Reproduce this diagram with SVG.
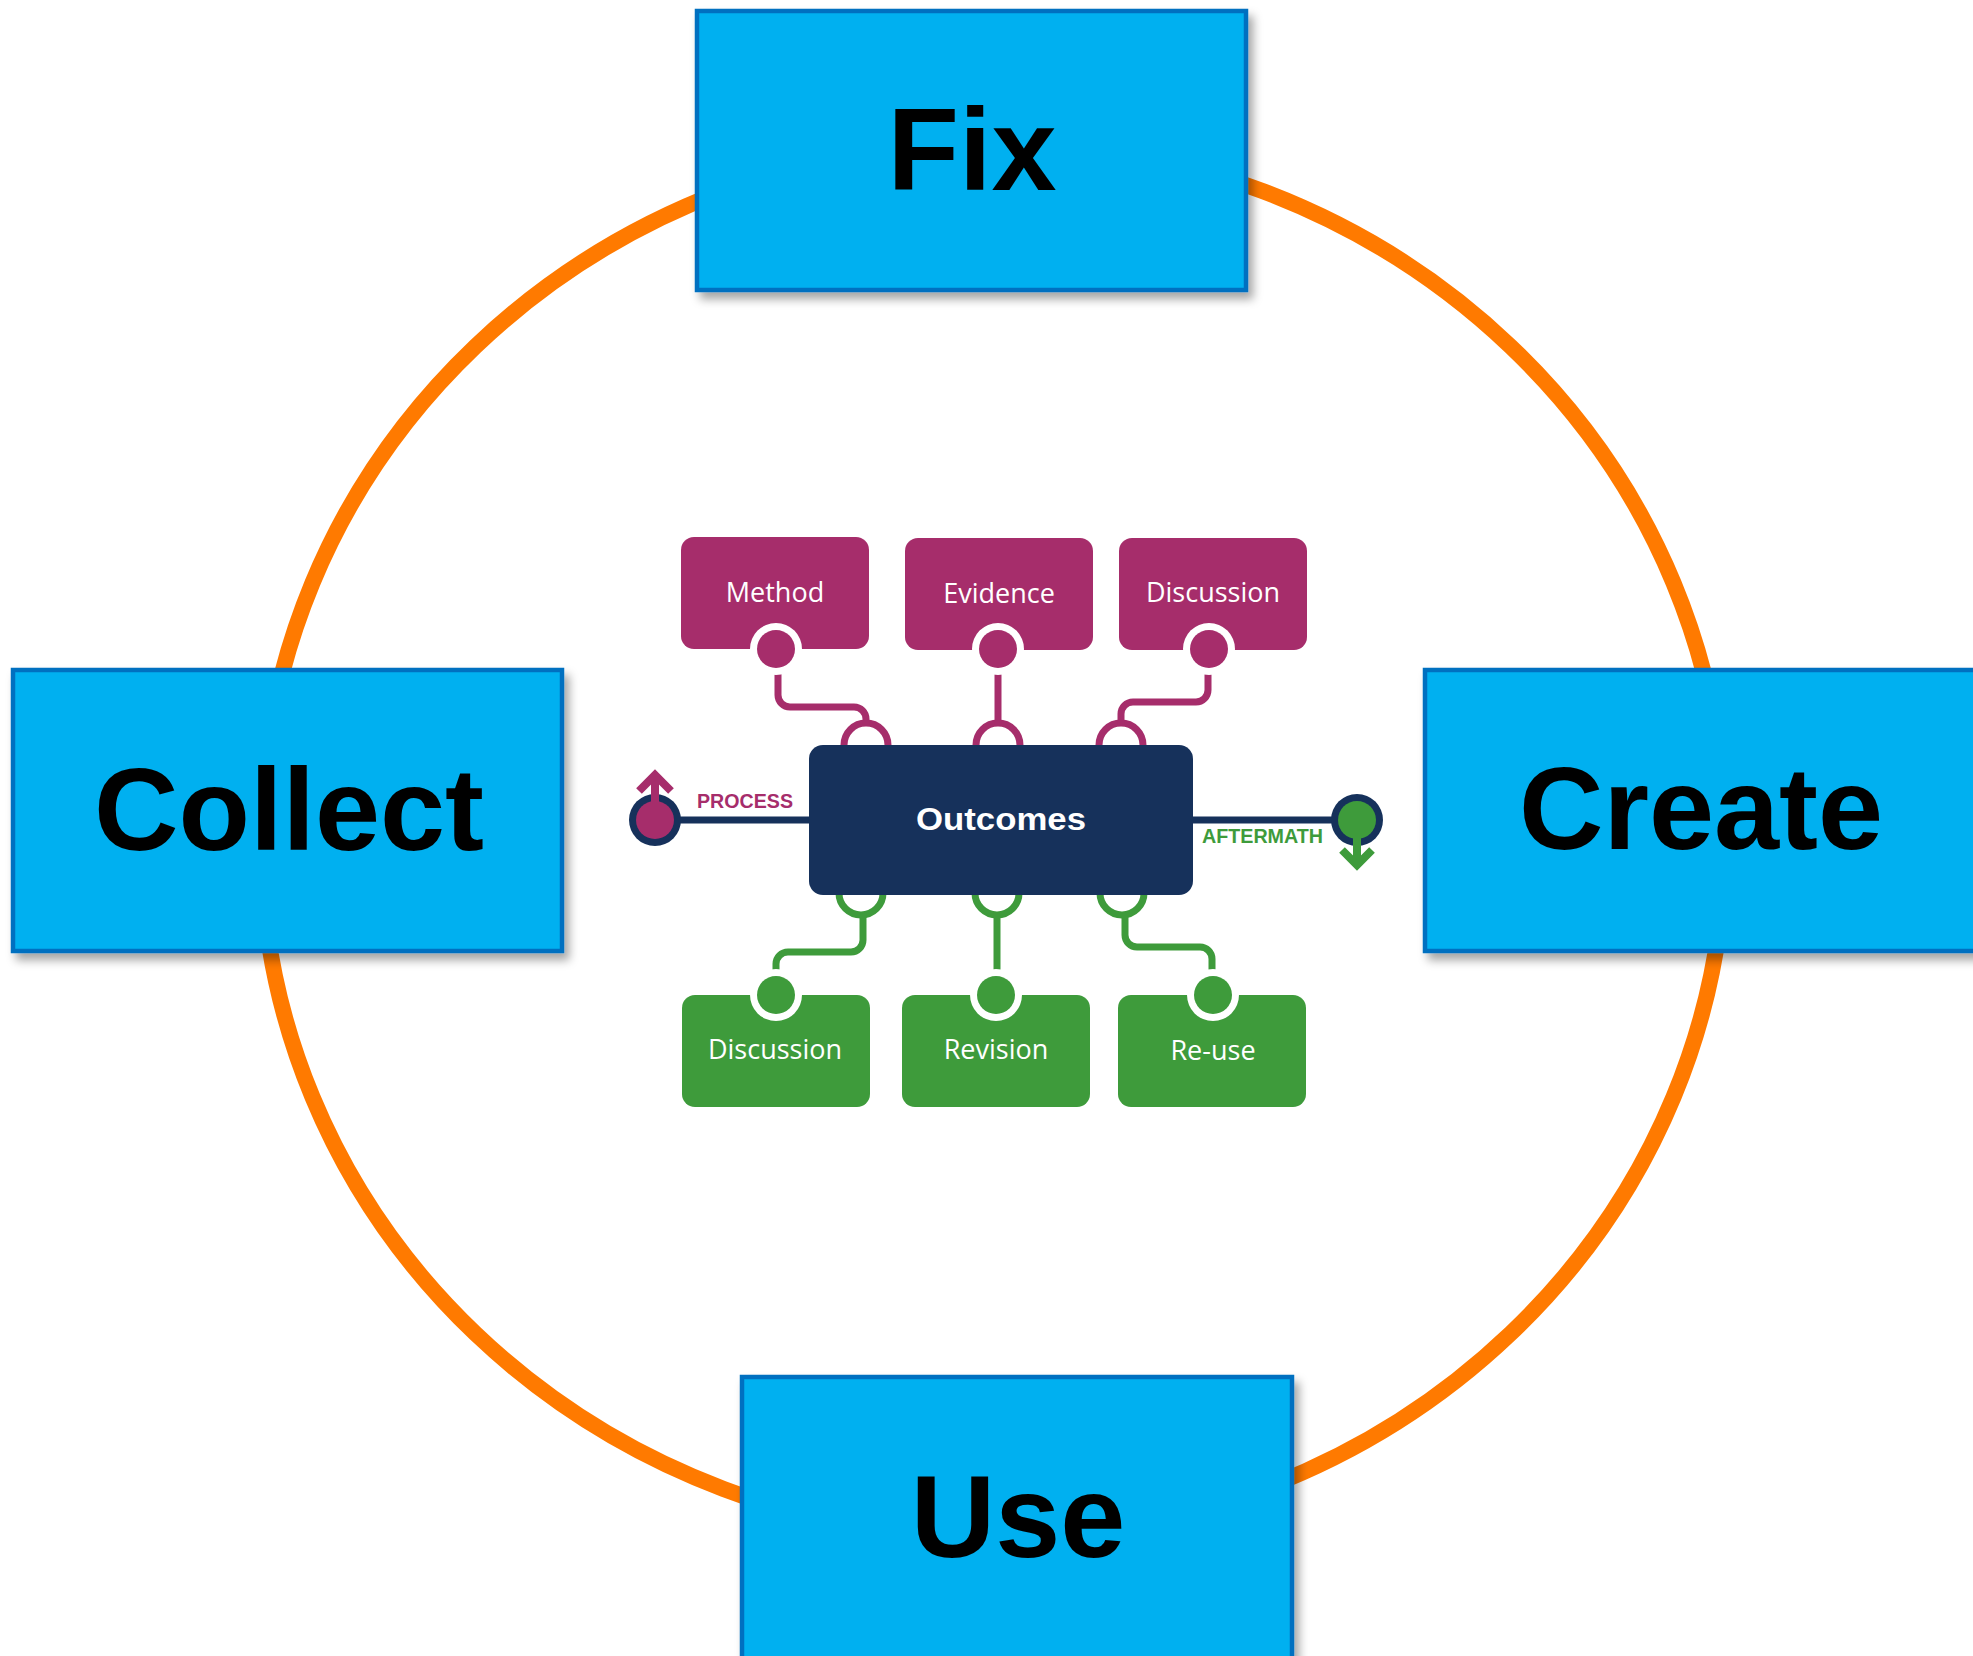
<svg xmlns="http://www.w3.org/2000/svg" width="1973" height="1656" viewBox="0 0 1973 1656">
  <defs>
    <filter id="shadow" x="-10%" y="-10%" width="125%" height="130%">
      <feDropShadow dx="5" dy="7" stdDeviation="5" flood-color="#000" flood-opacity="0.35"/>
    </filter>
    <style>
      .stage { fill: #00B0F0; stroke: #0070C0; stroke-width: 4.5; filter: url(#shadow); }
      .stage-label { font-family: "Liberation Sans", Arial, sans-serif; font-weight: bold; font-size: 117px; fill: #000; text-anchor: middle; }
      .ring { fill: none; stroke: #FF7A00; stroke-width: 16; }
      .mag { fill: #A62D6B; }
      .grn { fill: #3E9B3B; }
      .navy { fill: #16315B; }
      .item-label { font-family: "Open Sans", "Noto Sans", sans-serif; font-size: 27px; fill: #FFFFFF; text-anchor: middle; }
      .port-gap { fill: #FFFFFF; }
      .link-mag { fill: none; stroke: #A62D6B; stroke-width: 7; }
      .link-grn { fill: none; stroke: #3E9B3B; stroke-width: 7; }
      .link-navy { fill: none; stroke: #16315B; stroke-width: 7; }
      .tag { font-family: "Liberation Sans", Arial, sans-serif; font-weight: bold; font-size: 20px; }
    </style>
  </defs>

  <rect width="1973" height="1656" fill="#FFFFFF"/>

  <!-- orange cycle ring -->
  <ellipse class="ring" cx="993" cy="840" rx="732" ry="698"/>

  <!-- cycle stages -->
  <g id="fix">
    <rect class="stage" x="697" y="11" width="549" height="279"/>
    <text class="stage-label" x="972" y="190">Fix</text>
  </g>
  <g id="collect">
    <rect class="stage" x="13" y="670" width="549" height="281"/>
    <text class="stage-label" x="289" y="850">Collect</text>
  </g>
  <g id="create">
    <rect class="stage" x="1425" y="670" width="552" height="281"/>
    <text class="stage-label" x="1701" y="849">Create</text>
  </g>
  <g id="use">
    <rect class="stage" x="742" y="1377" width="550" height="282"/>
    <text class="stage-label" x="1018" y="1557">Use</text>
  </g>

  <!-- connectors -->
  <g id="connectors">
    <!-- sockets on the outcomes box -->
    <circle class="link-mag" cx="866" cy="745" r="22"/>
    <circle class="link-mag" cx="998" cy="745" r="22"/>
    <circle class="link-mag" cx="1121" cy="745" r="22"/>
    <circle class="link-grn" cx="861" cy="893" r="22"/>
    <circle class="link-grn" cx="997" cy="893" r="22"/>
    <circle class="link-grn" cx="1122" cy="893" r="22"/>
    <!-- upper links -->
    <path class="link-mag" d="M 778 668 V 695 A 12 12 0 0 0 790 707 H 854 A 12 12 0 0 1 866 719 V 725"/>
    <path class="link-mag" d="M 998 668 V 725"/>
    <path class="link-mag" d="M 1208 668 V 690 A 12 12 0 0 1 1196 702 H 1133 A 12 12 0 0 0 1121 714 V 725"/>
    <!-- lower links -->
    <path class="link-grn" d="M 863 913 V 940 A 12 12 0 0 1 851 952 H 788 A 12 12 0 0 0 776 964 V 985"/>
    <path class="link-grn" d="M 997 913 V 985"/>
    <path class="link-grn" d="M 1125 913 V 935 A 12 12 0 0 0 1137 947 H 1200 A 12 12 0 0 1 1212 959 V 985"/>
    <!-- process / aftermath axis -->
    <path class="link-navy" d="M 678 820 H 812"/>
    <path class="link-navy" d="M 1190 820 H 1334"/>
  </g>

  <!-- process terminal -->
  <g id="process">
    <circle class="navy" cx="655" cy="820" r="26"/>
    <circle class="mag" cx="655" cy="820" r="19"/>
    <path d="M 655 812 V 778" stroke="#A62D6B" stroke-width="8" fill="none"/>
    <path d="M 639 791 L 655 775 L 671 791" stroke="#A62D6B" stroke-width="8" fill="none"/>
    <text class="tag" x="697" y="808" fill="#A62D6B" textLength="96" lengthAdjust="spacingAndGlyphs">PROCESS</text>
  </g>

  <!-- aftermath terminal -->
  <g id="aftermath">
    <circle class="navy" cx="1357" cy="820" r="26"/>
    <circle class="grn" cx="1357" cy="820" r="19"/>
    <path d="M 1357 828 V 862" stroke="#3E9B3B" stroke-width="8" fill="none"/>
    <path d="M 1342 850 L 1357 865 L 1372 850" stroke="#3E9B3B" stroke-width="8" fill="none"/>
    <text class="tag" x="1202" y="843" fill="#3E9B3B" textLength="121" lengthAdjust="spacingAndGlyphs">AFTERMATH</text>
  </g>

  <!-- central outcomes box -->
  <g id="outcomes">
    <rect class="navy" x="809" y="745" width="384" height="150" rx="14"/>
    <text x="1001" y="830" text-anchor="middle" fill="#FFFFFF" font-family="'Liberation Sans', Arial, sans-serif" font-weight="bold" font-size="32" textLength="170" lengthAdjust="spacingAndGlyphs">Outcomes</text>
  </g>

  <!-- upper items -->
  <g id="method">
    <rect class="mag" x="681" y="537" width="188" height="112" rx="13"/>
    <circle class="port-gap" cx="776" cy="649" r="26"/>
    <circle class="mag" cx="776" cy="649" r="19"/>
    <text class="item-label" x="775" y="602">Method</text>
  </g>
  <g id="evidence">
    <rect class="mag" x="905" y="538" width="188" height="112" rx="13"/>
    <circle class="port-gap" cx="998" cy="649" r="26"/>
    <circle class="mag" cx="998" cy="649" r="19"/>
    <text class="item-label" x="999" y="603">Evidence</text>
  </g>
  <g id="discussion-upper">
    <rect class="mag" x="1119" y="538" width="188" height="112" rx="13"/>
    <circle class="port-gap" cx="1209" cy="649" r="26"/>
    <circle class="mag" cx="1209" cy="649" r="19"/>
    <text class="item-label" x="1213" y="602">Discussion</text>
  </g>

  <!-- lower items -->
  <g id="discussion-lower">
    <rect class="grn" x="682" y="995" width="188" height="112" rx="13"/>
    <circle class="port-gap" cx="776" cy="995" r="26"/>
    <circle class="grn" cx="776" cy="995" r="19"/>
    <text class="item-label" x="775" y="1059">Discussion</text>
  </g>
  <g id="revision">
    <rect class="grn" x="902" y="995" width="188" height="112" rx="13"/>
    <circle class="port-gap" cx="996" cy="995" r="26"/>
    <circle class="grn" cx="996" cy="995" r="19"/>
    <text class="item-label" x="996" y="1059">Revision</text>
  </g>
  <g id="re-use">
    <rect class="grn" x="1118" y="995" width="188" height="112" rx="13"/>
    <circle class="port-gap" cx="1213" cy="995" r="26"/>
    <circle class="grn" cx="1213" cy="995" r="19"/>
    <text class="item-label" x="1213" y="1060">Re-use</text>
  </g>
</svg>
